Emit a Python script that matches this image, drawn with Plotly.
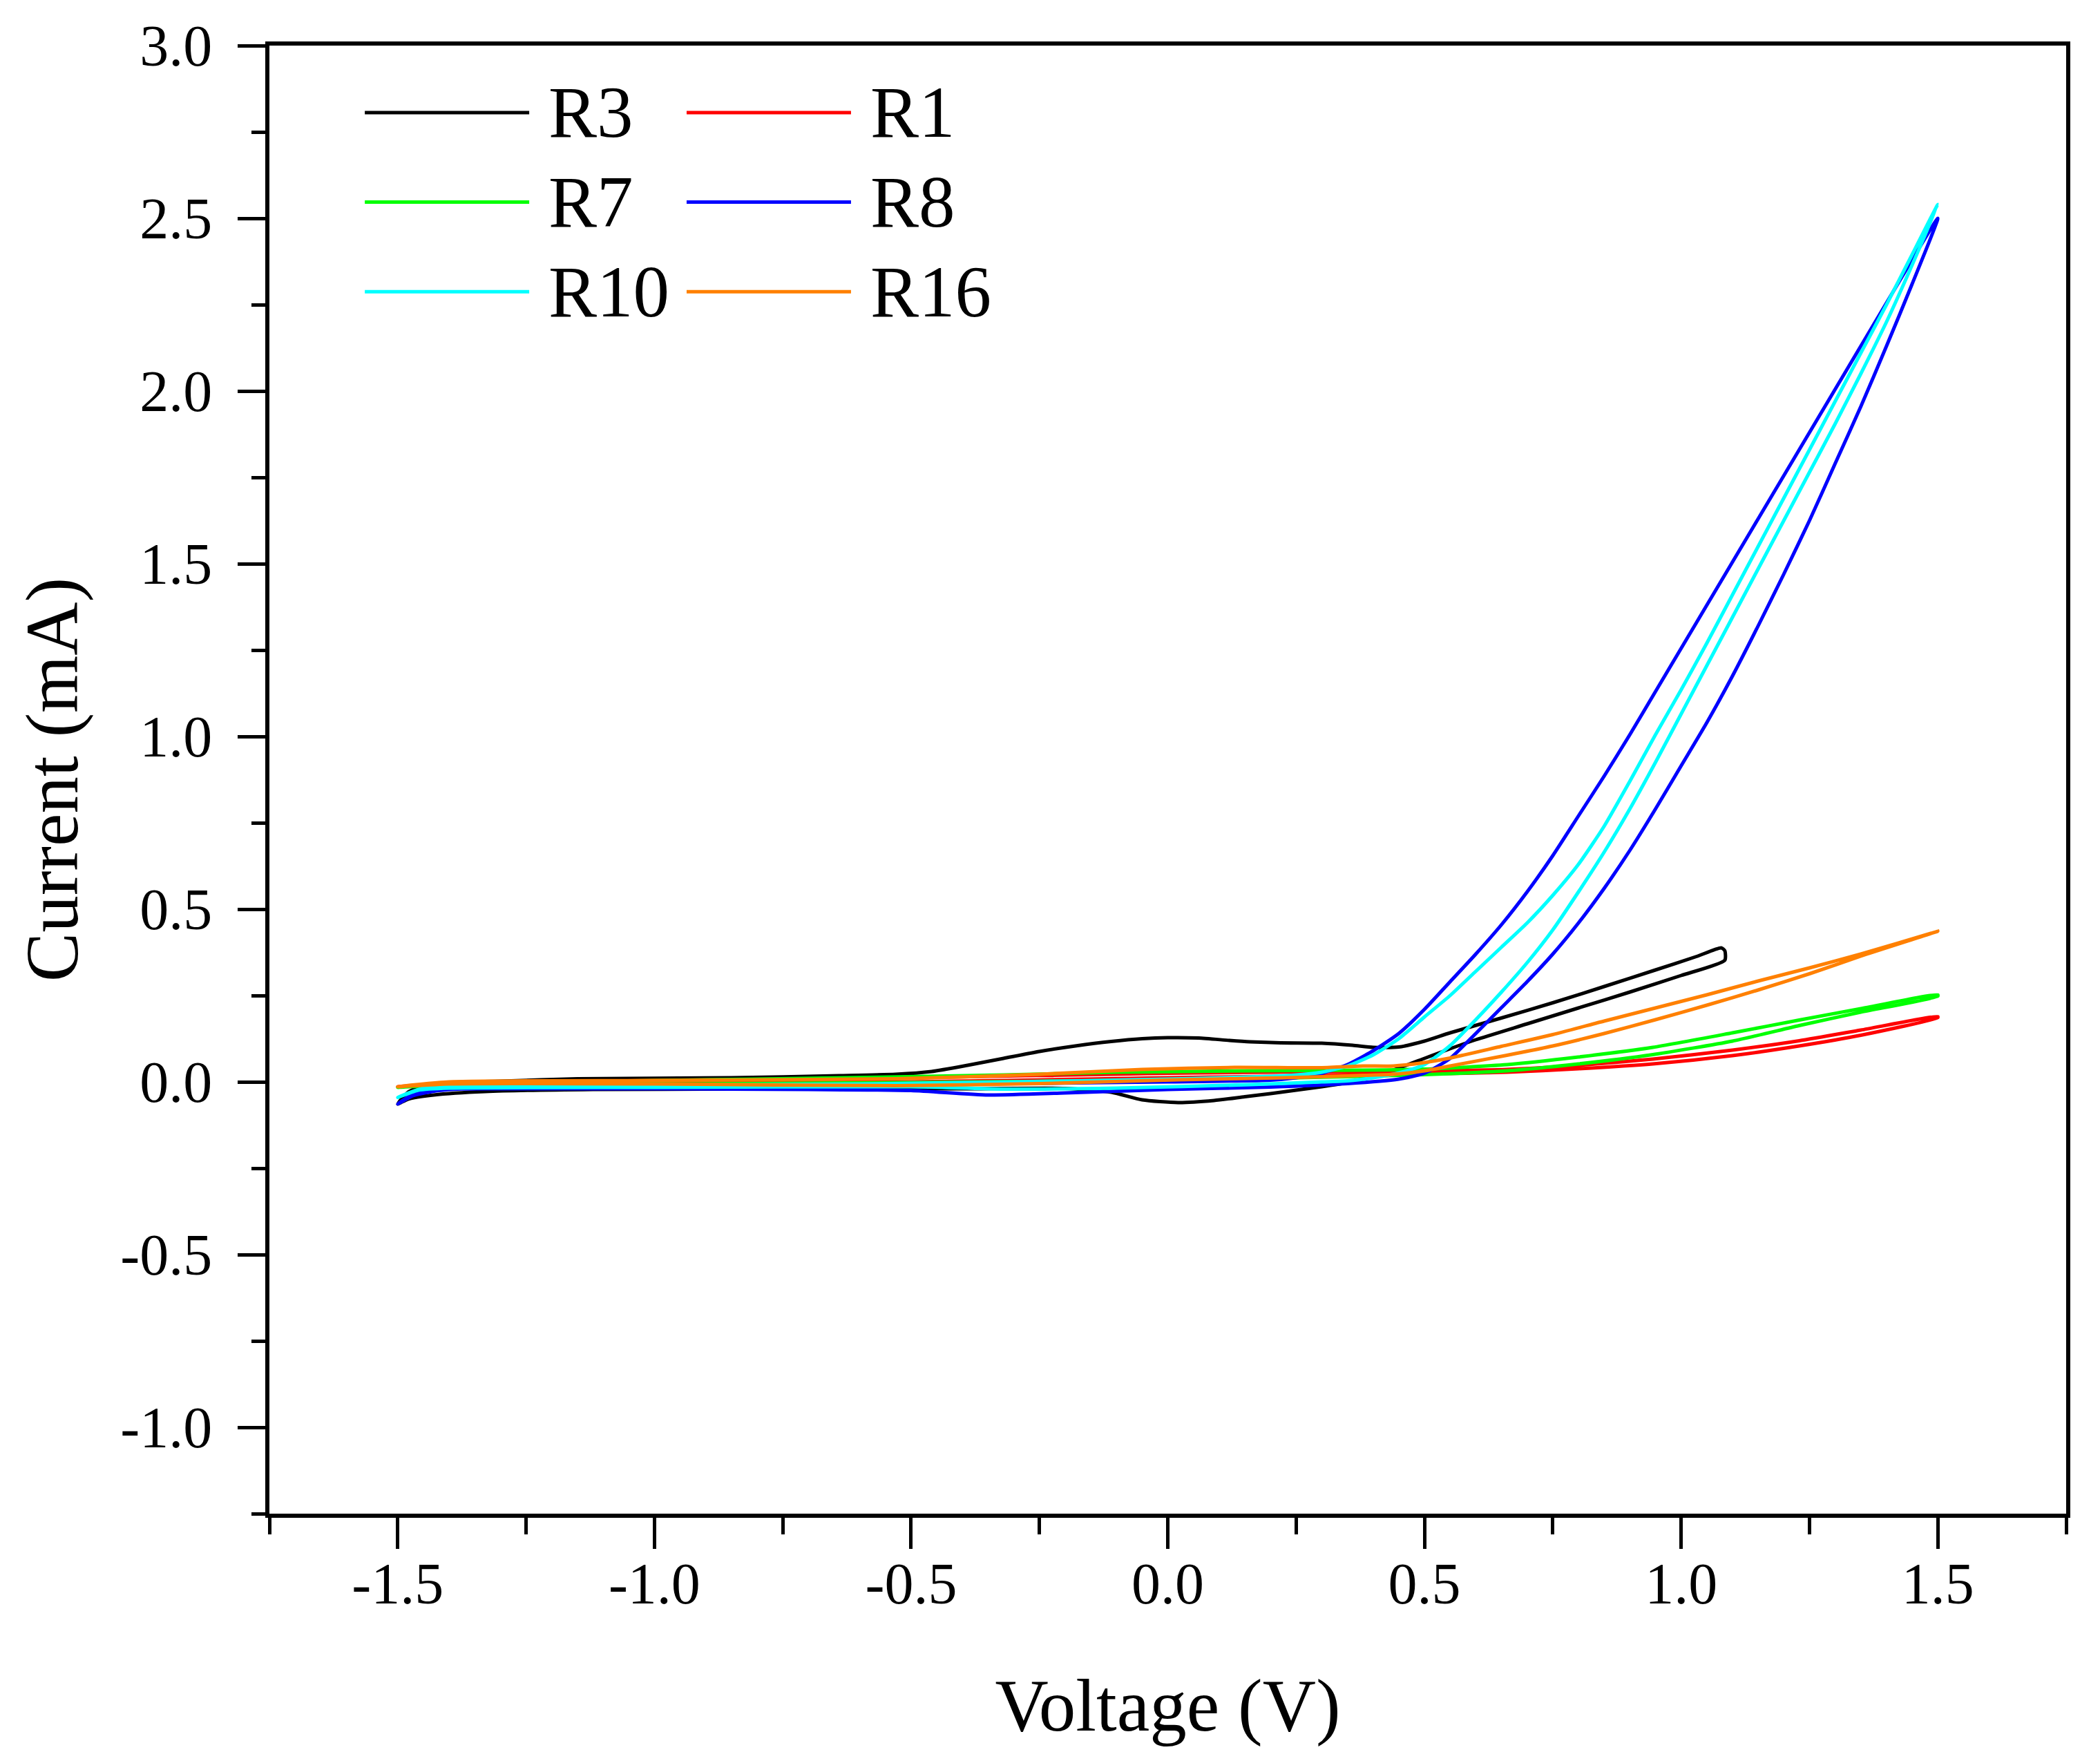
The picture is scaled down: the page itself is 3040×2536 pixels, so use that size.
import plotly.graph_objects as go

# cyclic voltammetry loops, voltage (V) and current (mA)
r3_v = [-1.50, -1.48, -1.45, -1.40, -1.30, -1.15, -0.85, -0.64, -0.53, -0.46, -0.39, -0.32, -0.25, -0.18, -0.11,
        -0.05, 0.00, 0.06, 0.12, 0.16, 0.22, 0.30, 0.36, 0.40, 0.45, 0.50, 0.55, 0.65, 0.75, 0.85, 0.95, 1.03,
        1.078, 1.085, 1.085, 1.00, 0.90, 0.80, 0.70, 0.60, 0.55, 0.50, 0.45, 0.40, 0.35, 0.30, 0.25, 0.20, 0.15,
        0.09, 0.02, -0.05, -0.11, -0.20, -0.40, -0.60, -0.85, -1.12, -1.33, -1.43, -1.48, -1.50]
r3_i = [-0.064, -0.030, -0.010, -0.002, 0.002, 0.009, 0.012, 0.018, 0.022, 0.030, 0.048, 0.068, 0.088, 0.104, 0.117,
        0.125, 0.128, 0.127, 0.120, 0.116, 0.113, 0.112, 0.106, 0.100, 0.101, 0.118, 0.142, 0.185, 0.229, 0.276,
        0.324, 0.363, 0.388, 0.380, 0.352, 0.308, 0.260, 0.214, 0.168, 0.122, 0.096, 0.068, 0.040, 0.016, -0.002,
        -0.014, -0.024, -0.034, -0.043, -0.054, -0.060, -0.052, -0.030, -0.019, -0.020, -0.020, -0.021, -0.022,
        -0.028, -0.038, -0.050, -0.064]

r1_v = [-1.50, -1.40, -1.00, -0.50, 0.00, 0.20, 0.376, 0.50, 0.661, 0.80, 0.945, 1.10, 1.23, 1.35, 1.50,
        1.50, 1.35, 1.23, 1.10, 0.945, 0.80, 0.661, 0.50, 0.376, 0.20, 0.00, -0.50, -1.00, -1.40, -1.50]
r1_i = [-0.014, -0.006, -0.004, 0.000, 0.012, 0.016, 0.020, 0.023, 0.028, 0.038, 0.052, 0.076, 0.104, 0.135, 0.186,
        0.189, 0.150, 0.119, 0.092, 0.066, 0.048, 0.036, 0.032, 0.030, 0.028, 0.025, 0.012, 0.004, -0.004, -0.014]

r7_v = [-1.50, -1.40, -1.00, -0.50, 0.00, 0.20, 0.376, 0.50, 0.661, 0.80, 0.945, 1.10, 1.23, 1.35, 1.50,
        1.50, 1.35, 1.23, 1.10, 0.945, 0.80, 0.661, 0.50, 0.376, 0.16, -0.10, -0.32, -0.80, -1.20, -1.40, -1.50]
r7_i = [-0.016, -0.008, -0.006, -0.002, 0.006, 0.010, 0.016, 0.021, 0.032, 0.052, 0.079, 0.118, 0.163, 0.202, 0.248,
        0.252, 0.212, 0.179, 0.142, 0.100, 0.072, 0.050, 0.037, 0.034, 0.032, 0.028, 0.020, 0.008, 0.000, -0.006,
        -0.016]

r8_v = [-1.50, -1.47, -1.42, -1.30, -1.00, -0.70, -0.50, -0.35, -0.20, 0.00, 0.20, 0.35, 0.45, 0.50, 0.55, 0.60,
        0.65, 0.70, 0.75, 0.80, 0.85, 0.90, 0.95, 1.00, 1.05, 1.10, 1.15, 1.20, 1.25, 1.30, 1.35, 1.40, 1.45, 1.50,
        1.45, 1.40, 1.35, 1.30, 1.25, 1.20, 1.15, 1.10, 1.05, 1.00, 0.95, 0.90, 0.85, 0.80, 0.75, 0.70, 0.65, 0.60,
        0.55, 0.50, 0.45, 0.40, 0.35, 0.30, 0.25, 0.20, 0.00, -0.30, -0.70, -1.00, -1.30, -1.42, -1.47, -1.50]
r8_i = [-0.064, -0.035, -0.022, -0.020, -0.020, -0.022, -0.025, -0.038, -0.032, -0.022, -0.015, -0.005, 0.008,
        0.025, 0.068, 0.140, 0.215, 0.290, 0.370, 0.460, 0.560, 0.670, 0.790, 0.915, 1.040, 1.175, 1.320, 1.470,
        1.625, 1.790, 1.955, 2.130, 2.310, 2.500,
        2.380, 2.255, 2.130, 2.005, 1.880, 1.755, 1.630, 1.505, 1.380, 1.255, 1.130, 1.005, 0.885, 0.770, 0.655,
        0.550, 0.455, 0.370, 0.290, 0.210, 0.140, 0.090, 0.050, 0.025, 0.012, 0.005, 0.000, -0.005, -0.010,
        -0.012, -0.016, -0.025, -0.040, -0.064]

r10_v = [-1.50, -1.46, -1.40, -1.00, -0.50, -0.32, -0.10, 0.16, 0.30, 0.35, 0.40, 0.45, 0.50, 0.55, 0.60, 0.65,
         0.70, 0.75, 0.80, 0.85, 0.90, 0.95, 1.00, 1.05, 1.10, 1.15, 1.20, 1.25, 1.30, 1.35, 1.40, 1.45, 1.50,
         1.45, 1.40, 1.35, 1.30, 1.25, 1.20, 1.15, 1.10, 1.05, 1.00, 0.95, 0.90, 0.85, 0.80, 0.75, 0.70, 0.65,
         0.60, 0.55, 0.50, 0.45, 0.40, 0.35, 0.30, 0.25, 0.20, 0.00, -0.30, -0.60, -1.00, -1.30, -1.45, -1.50]
r10_i = [-0.045, -0.024, -0.018, -0.016, -0.014, -0.021, -0.018, -0.008, 0.000, 0.003, 0.012, 0.026, 0.050, 0.105,
         0.180, 0.260, 0.345, 0.440, 0.550, 0.665, 0.790, 0.925, 1.065, 1.205, 1.345, 1.485, 1.625, 1.765, 1.905,
         2.050, 2.200, 2.365, 2.540,
         2.395, 2.250, 2.110, 1.970, 1.830, 1.690, 1.550, 1.410, 1.270, 1.135, 1.005, 0.870, 0.740, 0.630, 0.540,
         0.460, 0.390, 0.320, 0.250, 0.188, 0.125, 0.078, 0.046, 0.028, 0.020, 0.016, 0.008, 0.000, -0.006,
         -0.010, -0.012, -0.018, -0.045]

r16_v = [-1.50, -1.40, -1.00, -0.53, -0.25, 0.02, 0.23, 0.38, 0.44, 0.50, 0.55, 0.65, 0.75, 0.85, 0.95, 1.05,
         1.15, 1.25, 1.35, 1.50,
         1.35, 1.25, 1.15, 1.05, 0.95, 0.85, 0.75, 0.65, 0.55, 0.50, 0.44, 0.38, 0.30, 0.13, -0.05, -0.25, -0.53,
         -1.00, -1.40, -1.50]
r16_i = [-0.014, -0.006, -0.006, -0.011, -0.005, 0.006, 0.012, 0.019, 0.022, 0.032, 0.046, 0.074, 0.104, 0.140,
         0.180, 0.222, 0.266, 0.313, 0.364, 0.436,
         0.370, 0.330, 0.292, 0.252, 0.214, 0.176, 0.137, 0.103, 0.069, 0.056, 0.046, 0.046, 0.041, 0.042, 0.036,
         0.022, 0.009, 0.004, 0.000, -0.014]

series_names = ["R3", "R1", "R7", "R8", "R10", "R16"]
series_v = [r3_v, r1_v, r7_v, r8_v, r10_v, r16_v]
series_i = [r3_i, r1_i, r7_i, r8_i, r10_i, r16_i]
colors = ["#000000", "#FF0000", "#00FF00", "#0000FF", "#00FFFF", "#FF8000"]

x_tick_vals = [-1.5, -1.0, -0.5, 0.0, 0.5, 1.0, 1.5]
x_tick_text = ["-1.5", "-1.0", "-0.5", "0.0", "0.5", "1.0", "1.5"]
y_tick_vals = [-1.0, -0.5, 0.0, 0.5, 1.0, 1.5, 2.0, 2.5, 3.0]
y_tick_text = ["-1.0", "-0.5", "0.0", "0.5", "1.0", "1.5", "2.0", "2.5", "3.0"]

FONT = "Liberation Serif"

fig = go.Figure()
for name, v, i, c in zip(series_names, series_v, series_i, colors):
    fig.add_trace(go.Scatter(x=v, y=i, mode="lines", name=name, showlegend=False,
                             line=dict(color=c, width=5, shape="spline", smoothing=0.6)))

# legend drawn by hand: two columns of long line samples, like the original
leg_x0, leg_len, leg_gap, col_step = 0.0531, 0.0915, 0.0100, 0.1791
row_y0, row_step = 0.9544, 0.0610
for k, (name, c) in enumerate(zip(series_names, colors)):
    row, col = divmod(k, 2)
    x0 = leg_x0 + col * col_step
    y = row_y0 - row * row_step
    fig.add_shape(type="line", xref="paper", yref="paper", x0=x0, x1=x0 + leg_len, y0=y, y1=y,
                  line=dict(color=c, width=5))
    fig.add_annotation(xref="paper", yref="paper", x=x0 + leg_len + leg_gap, y=y, text=name,
                       showarrow=False, xanchor="left", yanchor="middle",
                       font=dict(family=FONT, size=105, color="black"))

axis_common = dict(showline=True, linecolor="black", linewidth=6, mirror=True, ticks="outside",
                   tickcolor="black", tickwidth=5, showgrid=False, zeroline=False,
                   tickfont=dict(family=FONT, size=84, color="black"))

fig.update_xaxes(range=[-1.75, 1.75], tickvals=x_tick_vals, ticktext=x_tick_text, ticklen=45,
                 ticklabelstandoff=-22,
                 minor=dict(ticks="outside", dtick=0.25, tick0=0, ticklen=24, tickwidth=5, tickcolor="black"),
                 title=dict(text="Voltage (V)", font=dict(family=FONT, size=107, color="black"), standoff=94),
                 **axis_common)
fig.update_yaxes(range=[-1.25, 3.0], tickvals=y_tick_vals, ticktext=y_tick_text, ticklen=40,
                 ticklabelstandoff=20,
                 minor=dict(ticks="outside", dtick=0.25, tick0=0, ticklen=20, tickwidth=5, tickcolor="black"),
                 title=dict(text="Current (mA)", font=dict(family=FONT, size=107, color="black"), standoff=28),
                 **axis_common)

fig.update_layout(width=3040, height=2536, plot_bgcolor="white", paper_bgcolor="white",
                  margin=dict(l=390, r=49, t=66, b=345, autoexpand=False))

fig.write_html("out.html", config={"displayModeBar": False},
               post_script="document.body.style.margin='0';")
